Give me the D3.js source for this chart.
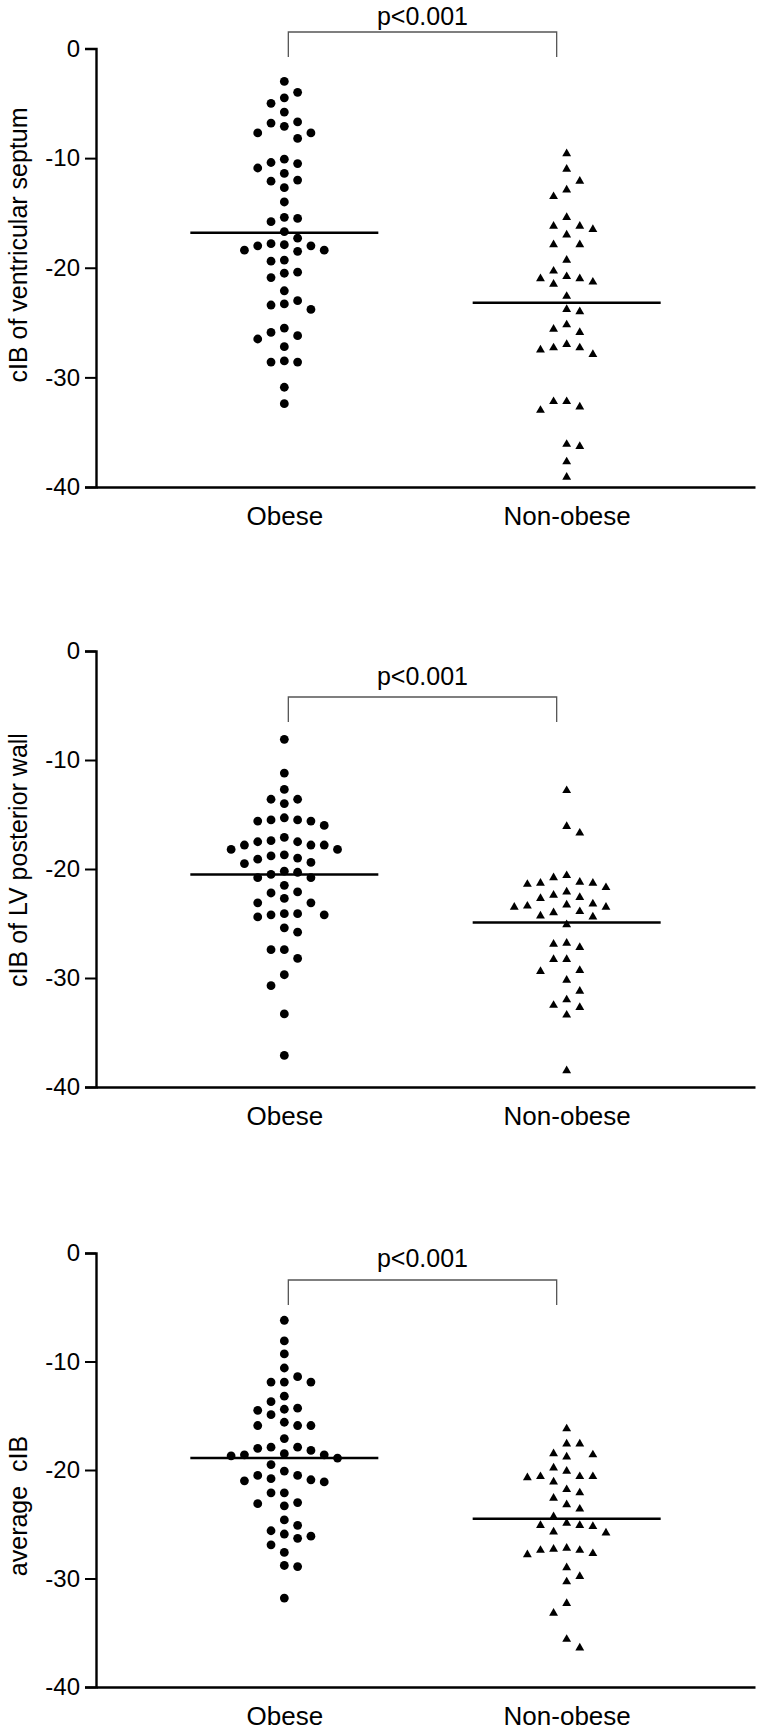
<!DOCTYPE html>
<html>
<head>
<meta charset="utf-8">
<script src="https://cdn.jsdelivr.net/npm/d3@7"></script>
<style>
  body { margin: 0; background: #fff; }
  svg text { font-family: "Liberation Sans", Arial, Helvetica, sans-serif; fill: #000; }
</style>
</head>
<body>
<div id="chart"></div>
<script>
// groups and axis
const categories = ["Obese", "Non-obese"];
const yTicks = [0, -10, -20, -30, -40];
const yTitles = ["cIB of ventricular septum", "cIB of LV posterior wall", "average  cIB"];
const pLabels = ["p<0.001", "p<0.001", "p<0.001"];

// cIB of ventricular septum
const septumObese = [-3.0, -4.0, -4.5, -5.0, -5.8, -7.1, -6.8, -6.7, -7.7, -7.7,
  -8.2, -10.1, -10.5, -10.4, -10.9, -11.4, -12.1, -12.0, -12.7, -14.0,
  -15.5, -15.4, -15.8, -16.7, -17.3, -17.8, -18.0, -18.5, -18.0, -17.9,
  -18.4, -18.4, -19.3, -19.4, -20.4, -20.5, -20.9, -22.1, -23.0, -23.4,
  -23.8, -23.3, -25.5, -26.2, -25.9, -26.5, -27.2, -28.5, -28.6, -28.6,
  -30.9, -32.4];
const septumNonObese = [-9.6, -11.0, -12.1, -12.9, -13.5, -15.4, -16.2, -16.5, -16.2, -17.0,
  -17.9, -17.9, -19.3, -20.3, -21.0, -21.3, -21.5, -21.0, -20.8, -22.6,
  -24.0, -23.8, -25.6, -25.9, -25.2, -27.0, -27.3, -27.9, -27.5, -27.3,
  -32.2, -32.7, -33.0, -32.2, -36.1, -36.3, -37.7, -39.1];
const septumMeans = [-16.8, -23.2];

// cIB of LV posterior wall
const wallObese = [-8.1, -11.2, -12.7, -13.6, -14.0, -13.6, -15.3, -15.5, -15.6, -16.0,
  -15.6, -15.5, -17.1, -17.5, -17.8, -17.8, -17.8, -17.5, -17.4, -18.2,
  -18.2, -19.1, -18.8, -19.5, -19.0, -18.7, -19.4, -20.5, -20.8, -20.3,
  -20.2, -20.8, -21.5, -22.2, -22.7, -22.1, -23.1, -23.1, -24.1, -24.2,
  -24.4, -24.2, -24.1, -25.8, -25.4, -27.4, -28.2, -27.4, -29.7, -30.7,
  -33.3, -37.1];
const wallNonObese = [-12.8, -16.1, -16.7, -20.6, -21.3, -21.4, -20.8, -21.7, -21.3, -21.2,
  -22.4, -22.7, -22.1, -22.6, -23.2, -23.9, -23.5, -23.5, -23.4, -23.3,
  -24.0, -24.3, -24.4, -25.1, -26.8, -27.2, -26.9, -28.3, -28.3, -29.4,
  -29.3, -30.2, -31.2, -32.0, -32.7, -32.5, -33.4, -38.5];
const wallMeans = [-20.5, -24.9];

// average cIB
const averageObese = [-6.2, -8.1, -9.3, -10.6, -11.9, -11.9, -11.4, -11.9, -13.2, -13.7,
  -14.3, -14.5, -14.4, -14.9, -15.6, -15.9, -15.9, -15.9, -17.1, -18.0,
  -18.2, -17.9, -17.9, -18.5, -18.7, -18.9, -18.6, -18.6, -19.5, -20.1,
  -20.5, -20.9, -21.1, -21.0, -20.8, -20.5, -22.1, -22.1, -23.1, -23.3,
  -23.0, -24.6, -25.1, -25.6, -26.1, -26.3, -25.9, -26.9, -27.6, -28.8,
  -28.9, -31.8];
const averageNonObese = [-16.2, -17.6, -17.6, -18.8, -18.5, -18.6, -19.8, -20.1, -20.6, -20.6,
  -20.7, -20.6, -21.1, -21.8, -22.1, -22.6, -23.2, -23.6, -24.3, -24.9,
  -25.1, -25.2, -25.1, -25.7, -25.8, -27.2, -27.3, -27.8, -27.7, -27.4,
  -27.4, -29.0, -29.8, -30.3, -32.3, -33.2, -35.6, -36.4];
const averageMeans = [-18.9, -24.5];

const width = 761, height = 1730;
const axisX = 96, axisRight = 755;

const panels = [
  { obese: septumObese, nonObese: septumNonObese, means: septumMeans, title: yTitles[0], p: pLabels[0],
    top: 48.5, bottom: 487, titleY: 245, bracketTop: 32, pGap: 7 },
  { obese: wallObese, nonObese: wallNonObese, means: wallMeans, title: yTitles[1], p: pLabels[1],
    top: 651, bottom: 1087, titleY: 860, bracketTop: 697, pGap: 12 },
  { obese: averageObese, nonObese: averageNonObese, means: averageMeans, title: yTitles[2], p: pLabels[2],
    top: 1253, bottom: 1687, titleY: 1506, bracketTop: 1280, pGap: 13 }
];

const svg = d3.select("#chart").append("svg")
  .attr("width", width)
  .attr("height", height);

// x positions shared by all panels
const x = d3.scalePoint()
  .domain(categories)
  .range([axisX, axisRight])
  .padding(0.667);

// spread points sideways in fixed columns so they don't sit on each other
function swarm(values, y, minGap) {
  let order = values.map(v => ({ v: v, py: y(v) })).sort((a, b) => a.py - b.py);
  let placed = [];
  let flip = 1;
  order.forEach(d => {
    for (let k = 0; k < 12; k++) {
      let slot = k === 0 ? 0 : Math.ceil(k / 2) * (k % 2 ? flip : -flip);
      let clash = placed.some(p => p.slot === slot && Math.abs(p.py - d.py) < minGap);
      if (!clash) {
        d.slot = slot;
        if (slot !== 0) flip = -Math.sign(slot);
        break;
      }
    }
    placed.push(d);
  });
  return order;
}

panels.forEach(panel => {
  let g = svg.append("g");

  let y = d3.scaleLinear()
    .domain([0, -40])
    .range([panel.top, panel.bottom]);

  // y axis, plain hyphen for negatives like the original
  let yAxis = g.append("g")
    .attr("transform", `translate(${axisX},0)`)
    .call(d3.axisLeft(y).tickValues(yTicks).tickSize(11).tickPadding(5).tickFormat(d => String(d)));
  yAxis.attr("font-size", null).attr("font-family", null);
  yAxis.select(".domain").attr("stroke-width", 2.4);
  yAxis.selectAll(".tick line").attr("stroke-width", 2);
  yAxis.selectAll(".tick text").style("font-size", "24px");

  // x axis (no ticks, just the line and group names)
  let xAxis = g.append("g")
    .attr("transform", `translate(0,${panel.bottom})`)
    .call(d3.axisBottom(x).tickSize(0).tickSizeOuter(0).tickPadding(19.5));
  xAxis.attr("font-size", null).attr("font-family", null);
  xAxis.select(".domain").attr("stroke-width", 2.6);
  xAxis.selectAll(".tick text").style("font-size", "26px");

  // y title
  g.append("text")
    .attr("transform", `translate(27,${panel.titleY}) rotate(-90)`)
    .attr("text-anchor", "middle")
    .style("font-size", "25px")
    .style("white-space", "pre")
    .text(panel.title);

  // significance bracket
  let bx0 = x(categories[0]) + 4;
  let bx1 = x(categories[1]) - 10;
  g.append("path")
    .attr("d", `M${bx0},${panel.bracketTop + 25} V${panel.bracketTop} H${bx1} V${panel.bracketTop + 25}`)
    .attr("fill", "none")
    .attr("stroke", "#555")
    .attr("stroke-width", 1.3);
  g.append("text")
    .attr("x", (bx0 + bx1) / 2)
    .attr("y", panel.bracketTop - panel.pGap)
    .attr("text-anchor", "middle")
    .style("font-size", "25px")
    .text(panel.p);

  // obese: filled circles
  let obesePts = swarm(panel.obese, y, 12.5);
  g.append("g").selectAll("circle")
    .data(obesePts)
    .join("circle")
    .attr("cx", d => x(categories[0]) + d.slot * 13.3)
    .attr("cy", d => d.py)
    .attr("r", 4.4)
    .attr("fill", "#000");

  // non-obese: filled triangles
  let nonPts = swarm(panel.nonObese, y, 12.5);
  let tri = d3.symbol().type(d3.symbolTriangle).size(34);
  g.append("g").selectAll("path")
    .data(nonPts)
    .join("path")
    .attr("d", tri)
    .attr("transform", d => `translate(${x(categories[1]) + d.slot * 13.1},${d.py})`)
    .attr("fill", "#000");

  // group means
  g.append("g").selectAll("line")
    .data(panel.means)
    .join("line")
    .attr("x1", (d, i) => x(categories[i]) - 94)
    .attr("x2", (d, i) => x(categories[i]) + 94)
    .attr("y1", d => y(d))
    .attr("y2", d => y(d))
    .attr("stroke", "#000")
    .attr("stroke-width", 2.5);
});
</script>
</body>
</html>
